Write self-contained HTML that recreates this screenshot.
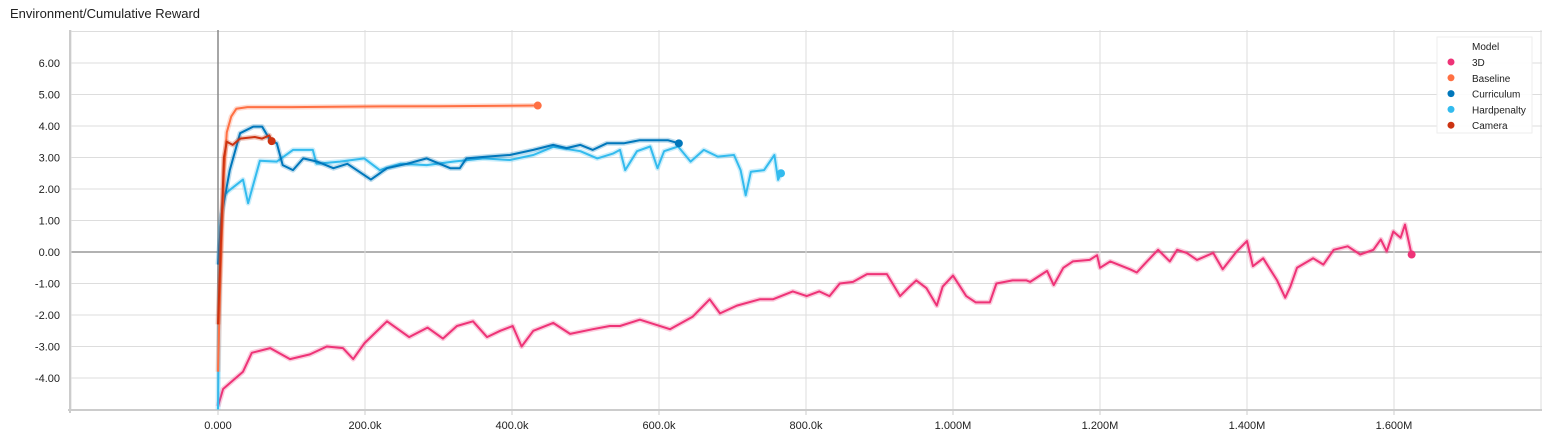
<!DOCTYPE html>
<html><head><meta charset="utf-8"><style>
body{margin:0;background:#fff;width:1550px;height:433px;overflow:hidden;font-family:"Liberation Sans",sans-serif}
#title{position:absolute;left:10px;top:6px;font-size:13px;color:#212121}
svg{position:absolute;left:0;top:0}
</style></head><body>
<div id="title">Environment/Cumulative Reward</div>
<svg id="chart" width="1550" height="433"></svg>
<script>
const xTickVals=[0,200,400,600,800,1000,1200,1400,1600];
const xTickLabels=["0.000","200.0k","400.0k","600.0k","800.0k","1.000M","1.200M","1.400M","1.600M"];
const yTickVals=[6,5,4,3,2,1,0,-1,-2,-3,-4];
const seriesNames=["3D","Baseline","Curriculum","Hardpenalty","Camera"];
const seriesColors=["#ee3377","#ff7043","#0077bb","#33bbee","#cc3311"];
const s3dSteps=[0,7,34,46,71,98,125,148,170,184,199,230,260,285,306,325,347,366,384,401,413,429,456,479,510,533,547,560,574,615,646,669,683,706,737,755,782,801,818,832,846,864,883,896,910,928,941,950,964,978,986,1000,1018,1031,1050,1059,1081,1100,1105,1128,1137,1150,1163,1186,1196,1200,1214,1241,1250,1264,1279,1295,1305,1318,1332,1354,1367,1386,1400,1408,1422,1441,1452,1459,1468,1490,1504,1518,1537,1554,1572,1582,1590,1599,1609,1615,1624];
const s3dVals=[-4.9,-4.35,-3.8,-3.2,-3.05,-3.4,-3.25,-3.0,-3.05,-3.4,-2.9,-2.2,-2.7,-2.4,-2.75,-2.35,-2.2,-2.7,-2.5,-2.35,-3.0,-2.5,-2.25,-2.6,-2.45,-2.35,-2.35,-2.25,-2.15,-2.45,-2.05,-1.5,-1.95,-1.7,-1.5,-1.5,-1.25,-1.4,-1.25,-1.4,-1.0,-0.95,-0.7,-0.7,-0.7,-1.4,-1.1,-0.9,-1.15,-1.7,-1.1,-0.75,-1.4,-1.6,-1.6,-1.0,-0.9,-0.9,-0.95,-0.6,-1.05,-0.5,-0.3,-0.25,-0.1,-0.5,-0.3,-0.55,-0.65,-0.3,0.07,-0.3,0.07,-0.03,-0.25,-0.03,-0.55,0.02,0.35,-0.45,-0.2,-0.9,-1.45,-1.1,-0.5,-0.2,-0.4,0.07,0.18,-0.08,0.07,0.4,0.02,0.65,0.45,0.87,-0.08];
const baseSteps=[0,3,8,12,18,25,40,100,200,300,435];
const baseVals=[-3.8,-1.0,2.5,3.8,4.3,4.55,4.6,4.6,4.62,4.63,4.65];
const currSteps=[0,5,16,30,48,60,71,80,88,102,116,135,157,176,208,230,257,284,316,329,338,366,397,429,456,474,493,510,529,552,574,593,612,627];
const currVals=[-0.4,1.2,2.6,3.77,3.98,3.98,3.55,3.45,2.76,2.6,2.97,2.87,2.66,2.8,2.3,2.66,2.8,2.97,2.66,2.66,2.97,3.03,3.08,3.24,3.4,3.3,3.4,3.24,3.45,3.45,3.55,3.55,3.55,3.45];
const hardSteps=[0,3,8,16,34,41,57,80,102,129,134,166,199,220,248,284,320,361,397,429,456,493,516,538,547,554,570,588,598,607,626,643,661,680,702,711,718,725,743,757,762,766];
const hardVals=[-5.0,0.8,1.8,1.97,2.3,1.55,2.9,2.87,3.24,3.24,2.8,2.87,2.97,2.6,2.8,2.76,2.87,2.97,2.92,3.08,3.34,3.2,2.97,3.13,3.24,2.6,3.2,3.35,2.66,3.2,3.35,2.87,3.24,3.03,3.08,2.6,1.8,2.55,2.6,3.08,2.29,2.5];
const camSteps=[0,5,8,12,20,30,50,60,70,73];
const camVals=[-2.3,1.0,3.0,3.5,3.4,3.6,3.65,3.6,3.7,3.52];

const NS="http://www.w3.org/2000/svg";
const svg=document.getElementById('chart');
const X=k=>218+0.735*k;
const Y=v=>252-31.5*v;
function mk(tag,attrs,parent){const e=document.createElementNS(NS,tag);for(const a in attrs)e.setAttribute(a,attrs[a]);(parent||svg).appendChild(e);return e;}
const clip=mk('clipPath',{id:'plotclip'});mk('rect',{x:70,y:30,width:1472,height:380},clip);
// grid
for(let v=-5;v<=7;v++){
  const g=mk('line',{x1:70,x2:1542,y1:Y(v),y2:Y(v),stroke:v===0?'#999':'#ddd','stroke-width':v===0?1.5:1});
  
  
}
for(let k=-200;k<=1800;k+=200){
  const g=mk('line',{x1:X(k),x2:X(k),y1:30,y2:410,stroke:k===0?'#888':'#ddd','stroke-width':k===0?1.5:1});
  
  
}
mk('line',{x1:70,x2:70,y1:30,y2:413,stroke:'#ccc','stroke-width':2});
mk('line',{x1:68,x2:1542,y1:410,y2:410,stroke:'#ccc','stroke-width':2});
yTickVals.forEach(v=>{
  const t=mk('text',{x:60,y:Y(v)+4,'text-anchor':'end','font-size':11,fill:'#212121'});
  t.textContent=v.toFixed(2);
  
  
});
xTickVals.forEach((k,i)=>{
  mk('line',{x1:X(k),x2:X(k),y1:410,y2:415,stroke:'#ccc'});
  const t=mk('text',{x:X(k),y:429,'text-anchor':'middle','font-size':11,fill:'#212121'});
  t.textContent=xTickLabels[i];
  
  
});
const plot=mk('g',{'clip-path':'url(#plotclip)'});
function series(steps,vals,color,name){
  const d=steps.map((s,i)=>(i?'L':'M')+X(s).toFixed(1)+','+Y(vals[i]).toFixed(1)).join(' ');
  const halo=mk('path',{d:d,fill:'none',stroke:color,'stroke-opacity':0.25,'stroke-width':5,'stroke-linejoin':'round'},plot);
  
  
  const p=mk('path',{d:d,fill:'none',stroke:color,'stroke-width':2,'stroke-linejoin':'round'},plot);
  
  
  const n=steps.length-1;
  const c=mk('circle',{cx:X(steps[n]),cy:Y(vals[n]),r:4,fill:color},plot);
  
  
}
series(s3dSteps,s3dVals,seriesColors[0],'3d');
series(hardSteps,hardVals,seriesColors[3],'hardpenalty');
series(currSteps,currVals,seriesColors[2],'curriculum');
series(baseSteps,baseVals,seriesColors[1],'baseline');
series(camSteps,camVals,seriesColors[4],'camera');
// legend
const lg=mk('g',{});


mk('rect',{x:1437,y:37,width:95,height:96,fill:'#fff','fill-opacity':0.9,stroke:'#eee'},lg);
const hd=mk('text',{x:1472,y:50,'font-size':10,fill:'#212121'},lg);hd.textContent='Model';
seriesNames.forEach((n,i)=>{
  const y=62+i*15.8;
  const c=mk('circle',{cx:1451,cy:y,r:3.5,fill:seriesColors[i]},lg);
  
  
  const t=mk('text',{x:1472,y:y+4,'font-size':10,fill:'#212121'},lg);
  t.textContent=n;
  
  
});
</script>
</body></html>
